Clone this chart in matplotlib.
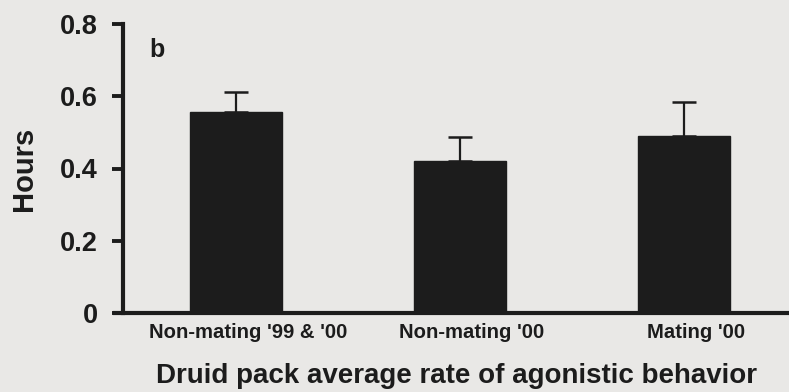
import matplotlib
matplotlib.use("Agg")
import matplotlib.pyplot as plt
from matplotlib.transforms import ScaledTranslation

categories = ["Non-mating '99 & '00", "Non-mating '00", "Mating '00"]
hours = [0.557, 0.421, 0.490]
errors = [0.055, 0.067, 0.095]
y_ticks = [0, 0.2, 0.4, 0.6, 0.8]
y_tick_labels = ["0", "0.2", "0.4", "0.6", "0.8"]

bg = "#e9e8e6"
ink = "#1c1c1c"
font = "Liberation Sans"

fig = plt.figure(figsize=(7.89, 3.92), dpi=100, facecolor=bg)
ax = fig.add_axes([123 / 789, 1 - 313 / 392, (789 - 123) / 789, (313 - 24) / 392])
ax.set_facecolor(bg)

x = list(range(len(categories)))
ax.bar(x, hours, width=0.41, color=ink, edgecolor=ink, zorder=2)
ax.errorbar(x, hours, yerr=[[0] * len(errors), errors], fmt="none",
            ecolor=ink, elinewidth=1.6, capsize=8.5, capthick=1.8, zorder=1)

ax.set_xlim(-0.504, 2.47)
ax.set_ylim(0, 0.8)
ax.set_yticks(y_ticks)
ax.set_yticklabels(y_tick_labels, fontfamily=font, fontweight="bold", fontsize=19.5, color=ink)
ax.set_xticks(x)
ax.set_xticklabels(categories, fontfamily=font, fontweight="bold", fontsize=14.6, color=ink)
ax.tick_params(axis="y", direction="out", length=8, width=2.8, color=ink, pad=10)
ax.tick_params(axis="x", length=0, pad=7)

# category labels sit slightly right of the bar centres
shift = ScaledTranslation(12 / 100, 0, fig.dpi_scale_trans)
for lbl in ax.get_xticklabels():
    lbl.set_transform(lbl.get_transform() + shift)

for side in ("top", "right"):
    ax.spines[side].set_visible(False)
for side in ("left", "bottom"):
    ax.spines[side].set_linewidth(3)
    ax.spines[side].set_color(ink)
ax.spines["bottom"].set_bounds(-0.504 - 8 / 224, 2.47)
ax.spines["bottom"].set_clip_on(False)

ax.set_ylabel("Hours", fontfamily=font, fontweight="bold", fontsize=21, color=ink, labelpad=16)
ax.set_xlabel("Druid pack average rate of agonistic behavior", fontfamily=font,
              fontweight="bold", fontsize=20, color=ink, labelpad=15)

ax.text(0.04, 0.95, "b", transform=ax.transAxes, fontfamily=font, fontweight="bold",
        fontsize=18, color=ink, va="top", ha="left")

fig.savefig("out.png", dpi=100, facecolor=bg)
